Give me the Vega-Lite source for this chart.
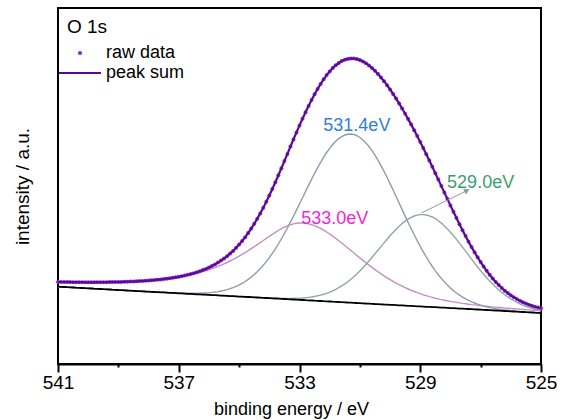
{
  "$schema": "https://vega.github.io/schema/vega-lite/v6.json",
  "width": 483,
  "height": 356,
  "autosize": {"type": "none"},
  "padding": {"left": 58, "top": 8, "right": 24, "bottom": 56},
  "background": "white",
  "config": {
    "view": {"stroke": "#000000", "strokeWidth": 2},
    "font": "Liberation Sans"
  },
  "datasets": {
    "xps": [
      {"E":525.0,"raw":55.8,"sum":55.8,"p1":51.1,"p2":53.5,"p3":53.2,"bg":51.0},
      {"E":525.1,"raw":56.5,"sum":56.5,"p1":51.3,"p2":54.1,"p3":53.4,"bg":51.2},
      {"E":525.2,"raw":57.3,"sum":57.3,"p1":51.5,"p2":54.9,"p3":53.7,"bg":51.3},
      {"E":525.3,"raw":58.3,"sum":58.3,"p1":51.6,"p2":55.7,"p3":53.9,"bg":51.5},
      {"E":525.4,"raw":59.3,"sum":59.3,"p1":51.9,"p2":56.7,"p3":54.1,"bg":51.7},
      {"E":525.5,"raw":60.5,"sum":60.5,"p1":52.1,"p2":57.7,"p3":54.3,"bg":51.8},
      {"E":525.6,"raw":61.8,"sum":61.8,"p1":52.3,"p2":58.9,"p3":54.6,"bg":52.0},
      {"E":525.7,"raw":63.2,"sum":63.2,"p1":52.5,"p2":60.2,"p3":54.8,"bg":52.2},
      {"E":525.8,"raw":64.9,"sum":64.9,"p1":52.8,"p2":61.7,"p3":55.1,"bg":52.3},
      {"E":525.9,"raw":66.7,"sum":66.7,"p1":53.1,"p2":63.3,"p3":55.3,"bg":52.5},
      {"E":526.0,"raw":68.7,"sum":68.7,"p1":53.3,"p2":65.1,"p3":55.5,"bg":52.6},
      {"E":526.1,"raw":70.9,"sum":70.9,"p1":53.7,"p2":67.1,"p3":55.8,"bg":52.8},
      {"E":526.2,"raw":73.3,"sum":73.3,"p1":54.0,"p2":69.2,"p3":56.0,"bg":53.0},
      {"E":526.3,"raw":76.0,"sum":76.0,"p1":54.4,"p2":71.6,"p3":56.3,"bg":53.1},
      {"E":526.4,"raw":78.9,"sum":78.9,"p1":54.9,"p2":74.1,"p3":56.6,"bg":53.3},
      {"E":526.5,"raw":82.1,"sum":82.1,"p1":55.3,"p2":76.9,"p3":56.9,"bg":53.5},
      {"E":526.6,"raw":85.5,"sum":85.5,"p1":55.9,"p2":79.8,"p3":57.1,"bg":53.6},
      {"E":526.7,"raw":89.2,"sum":89.2,"p1":56.5,"p2":82.9,"p3":57.4,"bg":53.8},
      {"E":526.8,"raw":93.2,"sum":93.2,"p1":57.2,"p2":86.2,"p3":57.7,"bg":54.0},
      {"E":526.9,"raw":97.4,"sum":97.4,"p1":58.0,"p2":89.7,"p3":58.0,"bg":54.1},
      {"E":527.0,"raw":101.9,"sum":101.9,"p1":58.9,"p2":93.3,"p3":58.4,"bg":54.3},
      {"E":527.1,"raw":106.7,"sum":106.7,"p1":59.8,"p2":97.0,"p3":58.7,"bg":54.5},
      {"E":527.2,"raw":111.7,"sum":111.7,"p1":61.0,"p2":100.9,"p3":59.1,"bg":54.6},
      {"E":527.3,"raw":116.9,"sum":116.9,"p1":62.2,"p2":104.8,"p3":59.4,"bg":54.8},
      {"E":527.4,"raw":122.3,"sum":122.3,"p1":63.6,"p2":108.8,"p3":59.8,"bg":55.0},
      {"E":527.5,"raw":128.0,"sum":128.0,"p1":65.2,"p2":112.8,"p3":60.2,"bg":55.1},
      {"E":527.6,"raw":133.8,"sum":133.8,"p1":66.9,"p2":116.8,"p3":60.6,"bg":55.3},
      {"E":527.7,"raw":139.8,"sum":139.8,"p1":68.9,"p2":120.8,"p3":61.1,"bg":55.4},
      {"E":527.8,"raw":146.0,"sum":146.0,"p1":71.0,"p2":124.6,"p3":61.6,"bg":55.6},
      {"E":527.9,"raw":152.2,"sum":152.2,"p1":73.4,"p2":128.3,"p3":62.1,"bg":55.8},
      {"E":528.0,"raw":158.6,"sum":158.6,"p1":76.0,"p2":131.8,"p3":62.6,"bg":55.9},
      {"E":528.1,"raw":165.0,"sum":165.0,"p1":78.9,"p2":135.1,"p3":63.2,"bg":56.1},
      {"E":528.2,"raw":171.4,"sum":171.4,"p1":82.1,"p2":138.1,"p3":63.8,"bg":56.3},
      {"E":528.3,"raw":177.9,"sum":177.9,"p1":85.5,"p2":140.9,"p3":64.4,"bg":56.4},
      {"E":528.4,"raw":184.4,"sum":184.4,"p1":89.2,"p2":143.3,"p3":65.1,"bg":56.6},
      {"E":528.5,"raw":190.8,"sum":190.8,"p1":93.2,"p2":145.3,"p3":65.8,"bg":56.8},
      {"E":528.6,"raw":197.2,"sum":197.2,"p1":97.5,"p2":147.0,"p3":66.6,"bg":56.9},
      {"E":528.7,"raw":203.6,"sum":203.6,"p1":102.1,"p2":148.2,"p3":67.4,"bg":57.1},
      {"E":528.8,"raw":209.8,"sum":209.8,"p1":107.0,"p2":149.0,"p3":68.3,"bg":57.2},
      {"E":528.9,"raw":216.0,"sum":216.0,"p1":112.2,"p2":149.4,"p3":69.2,"bg":57.4},
      {"E":529.0,"raw":222.0,"sum":222.0,"p1":117.6,"p2":149.4,"p3":70.3,"bg":57.6},
      {"E":529.1,"raw":228.0,"sum":228.0,"p1":123.3,"p2":148.9,"p3":71.3,"bg":57.7},
      {"E":529.2,"raw":233.8,"sum":233.8,"p1":129.2,"p2":148.0,"p3":72.5,"bg":57.9},
      {"E":529.3,"raw":239.4,"sum":239.4,"p1":135.3,"p2":146.6,"p3":73.7,"bg":58.1},
      {"E":529.4,"raw":244.9,"sum":244.9,"p1":141.5,"p2":144.9,"p3":75.0,"bg":58.2},
      {"E":529.5,"raw":250.3,"sum":250.3,"p1":147.9,"p2":142.9,"p3":76.3,"bg":58.4},
      {"E":529.6,"raw":255.5,"sum":255.5,"p1":154.4,"p2":140.4,"p3":77.8,"bg":58.6},
      {"E":529.7,"raw":260.6,"sum":260.6,"p1":161.0,"p2":137.7,"p3":79.3,"bg":58.7},
      {"E":529.8,"raw":265.4,"sum":265.4,"p1":167.5,"p2":134.8,"p3":80.9,"bg":58.9},
      {"E":529.9,"raw":270.1,"sum":270.1,"p1":174.0,"p2":131.6,"p3":82.6,"bg":59.1},
      {"E":530.0,"raw":274.5,"sum":274.5,"p1":180.4,"p2":128.2,"p3":84.3,"bg":59.2},
      {"E":530.1,"raw":278.8,"sum":278.8,"p1":186.7,"p2":124.7,"p3":86.2,"bg":59.4},
      {"E":530.2,"raw":282.8,"sum":282.8,"p1":192.7,"p2":121.1,"p3":88.1,"bg":59.5},
      {"E":530.3,"raw":286.5,"sum":286.5,"p1":198.4,"p2":117.4,"p3":90.1,"bg":59.7},
      {"E":530.4,"raw":290.0,"sum":290.0,"p1":203.8,"p2":113.8,"p3":92.2,"bg":59.9},
      {"E":530.5,"raw":293.2,"sum":293.2,"p1":208.8,"p2":110.1,"p3":94.4,"bg":60.0},
      {"E":530.6,"raw":296.1,"sum":296.1,"p1":213.4,"p2":106.5,"p3":96.6,"bg":60.2},
      {"E":530.7,"raw":298.6,"sum":298.6,"p1":217.5,"p2":103.0,"p3":98.9,"bg":60.4},
      {"E":530.8,"raw":300.8,"sum":300.8,"p1":221.1,"p2":99.5,"p3":101.2,"bg":60.5},
      {"E":530.9,"raw":302.6,"sum":302.6,"p1":224.1,"p2":96.2,"p3":103.6,"bg":60.7},
      {"E":531.0,"raw":303.9,"sum":303.9,"p1":226.5,"p2":93.1,"p3":106.1,"bg":60.9},
      {"E":531.1,"raw":304.9,"sum":304.9,"p1":228.3,"p2":90.1,"p3":108.5,"bg":61.0},
      {"E":531.2,"raw":305.4,"sum":305.4,"p1":229.5,"p2":87.3,"p3":111.0,"bg":61.2},
      {"E":531.3,"raw":305.5,"sum":305.5,"p1":230.0,"p2":84.7,"p3":113.5,"bg":61.4},
      {"E":531.4,"raw":305.1,"sum":305.1,"p1":229.8,"p2":82.3,"p3":116.0,"bg":61.5},
      {"E":531.5,"raw":304.2,"sum":304.2,"p1":229.0,"p2":80.1,"p3":118.5,"bg":61.7},
      {"E":531.6,"raw":302.9,"sum":302.9,"p1":227.5,"p2":78.1,"p3":121.0,"bg":61.9},
      {"E":531.7,"raw":301.0,"sum":301.0,"p1":225.4,"p2":76.3,"p3":123.3,"bg":62.0},
      {"E":531.8,"raw":298.7,"sum":298.7,"p1":222.7,"p2":74.6,"p3":125.7,"bg":62.2},
      {"E":531.9,"raw":295.9,"sum":295.9,"p1":219.5,"p2":73.2,"p3":127.9,"bg":62.3},
      {"E":532.0,"raw":292.6,"sum":292.6,"p1":215.7,"p2":71.9,"p3":130.0,"bg":62.5},
      {"E":532.1,"raw":288.9,"sum":288.9,"p1":211.5,"p2":70.7,"p3":132.0,"bg":62.7},
      {"E":532.2,"raw":284.7,"sum":284.7,"p1":206.8,"p2":69.7,"p3":133.9,"bg":62.8},
      {"E":532.3,"raw":280.1,"sum":280.1,"p1":201.7,"p2":68.9,"p3":135.6,"bg":63.0},
      {"E":532.4,"raw":275.1,"sum":275.1,"p1":196.3,"p2":68.2,"p3":137.0,"bg":63.2},
      {"E":532.5,"raw":269.8,"sum":269.8,"p1":190.6,"p2":67.6,"p3":138.3,"bg":63.3},
      {"E":532.6,"raw":264.1,"sum":264.1,"p1":184.7,"p2":67.0,"p3":139.3,"bg":63.5},
      {"E":532.7,"raw":258.1,"sum":258.1,"p1":178.6,"p2":66.6,"p3":140.1,"bg":63.7},
      {"E":532.8,"raw":251.8,"sum":251.8,"p1":172.5,"p2":66.3,"p3":140.7,"bg":63.8},
      {"E":532.9,"raw":245.3,"sum":245.3,"p1":166.3,"p2":66.0,"p3":141.0,"bg":64.0},
      {"E":533.0,"raw":238.6,"sum":238.6,"p1":160.0,"p2":65.8,"p3":141.0,"bg":64.2},
      {"E":533.1,"raw":231.6,"sum":231.6,"p1":153.9,"p2":65.7,"p3":140.7,"bg":64.3},
      {"E":533.2,"raw":224.6,"sum":224.6,"p1":147.8,"p2":65.6,"p3":140.1,"bg":64.5},
      {"E":533.3,"raw":217.4,"sum":217.4,"p1":141.8,"p2":65.6,"p3":139.3,"bg":64.7},
      {"E":533.4,"raw":210.1,"sum":210.1,"p1":136.1,"p2":65.6,"p3":138.1,"bg":64.8},
      {"E":533.5,"raw":202.9,"sum":202.9,"p1":130.5,"p2":65.6,"p3":136.8,"bg":65.0},
      {"E":533.6,"raw":195.7,"sum":195.7,"p1":125.1,"p2":65.6,"p3":135.3,"bg":65.1},
      {"E":533.7,"raw":188.7,"sum":188.7,"p1":120.0,"p2":65.7,"p3":133.5,"bg":65.3},
      {"E":533.8,"raw":181.7,"sum":181.7,"p1":115.2,"p2":65.8,"p3":131.7,"bg":65.5},
      {"E":533.9,"raw":175.0,"sum":175.0,"p1":110.7,"p2":65.9,"p3":129.7,"bg":65.6},
      {"E":534.0,"raw":168.5,"sum":168.5,"p1":106.4,"p2":66.0,"p3":127.7,"bg":65.8},
      {"E":534.1,"raw":162.2,"sum":162.2,"p1":102.4,"p2":66.1,"p3":125.6,"bg":66.0},
      {"E":534.2,"raw":156.3,"sum":156.3,"p1":98.7,"p2":66.2,"p3":123.5,"bg":66.1},
      {"E":534.3,"raw":150.6,"sum":150.6,"p1":95.4,"p2":66.4,"p3":121.4,"bg":66.3},
      {"E":534.4,"raw":145.2,"sum":145.2,"p1":92.3,"p2":66.5,"p3":119.3,"bg":66.5},
      {"E":534.5,"raw":140.2,"sum":140.2,"p1":89.4,"p2":66.7,"p3":117.3,"bg":66.6},
      {"E":534.6,"raw":135.4,"sum":135.4,"p1":86.9,"p2":66.8,"p3":115.3,"bg":66.8},
      {"E":534.7,"raw":131.0,"sum":131.0,"p1":84.6,"p2":67.0,"p3":113.3,"bg":67.0},
      {"E":534.8,"raw":126.8,"sum":126.8,"p1":82.5,"p2":67.1,"p3":111.4,"bg":67.1},
      {"E":534.9,"raw":123.0,"sum":123.0,"p1":80.7,"p2":67.3,"p3":109.6,"bg":67.3},
      {"E":535.0,"raw":119.4,"sum":119.4,"p1":79.1,"p2":67.4,"p3":107.8,"bg":67.4},
      {"E":535.1,"raw":116.2,"sum":116.2,"p1":77.7,"p2":67.6,"p3":106.1,"bg":67.6},
      {"E":535.2,"raw":113.1,"sum":113.1,"p1":76.4,"p2":67.8,"p3":104.5,"bg":67.8},
      {"E":535.3,"raw":110.4,"sum":110.4,"p1":75.3,"p2":67.9,"p3":103.0,"bg":67.9},
      {"E":535.4,"raw":107.8,"sum":107.8,"p1":74.4,"p2":68.1,"p3":101.5,"bg":68.1},
      {"E":535.5,"raw":105.5,"sum":105.5,"p1":73.6,"p2":68.3,"p3":100.1,"bg":68.3},
      {"E":535.6,"raw":103.4,"sum":103.4,"p1":73.0,"p2":68.4,"p3":98.8,"bg":68.4},
      {"E":535.7,"raw":101.4,"sum":101.4,"p1":72.4,"p2":68.6,"p3":97.6,"bg":68.6},
      {"E":535.8,"raw":99.6,"sum":99.6,"p1":72.0,"p2":68.8,"p3":96.4,"bg":68.8},
      {"E":535.9,"raw":98.0,"sum":98.0,"p1":71.6,"p2":68.9,"p3":95.3,"bg":68.9},
      {"E":536.0,"raw":96.5,"sum":96.5,"p1":71.3,"p2":69.1,"p3":94.2,"bg":69.1},
      {"E":536.1,"raw":95.1,"sum":95.1,"p1":71.1,"p2":69.3,"p3":93.3,"bg":69.3},
      {"E":536.2,"raw":93.9,"sum":93.9,"p1":71.0,"p2":69.4,"p3":92.4,"bg":69.4},
      {"E":536.3,"raw":92.8,"sum":92.8,"p1":70.9,"p2":69.6,"p3":91.5,"bg":69.6},
      {"E":536.4,"raw":91.8,"sum":91.8,"p1":70.8,"p2":69.7,"p3":90.7,"bg":69.7},
      {"E":536.5,"raw":90.8,"sum":90.8,"p1":70.8,"p2":69.9,"p3":90.0,"bg":69.9},
      {"E":536.6,"raw":90.0,"sum":90.0,"p1":70.8,"p2":70.1,"p3":89.3,"bg":70.1},
      {"E":536.7,"raw":89.2,"sum":89.2,"p1":70.8,"p2":70.2,"p3":88.6,"bg":70.2},
      {"E":536.8,"raw":88.5,"sum":88.5,"p1":70.9,"p2":70.4,"p3":88.0,"bg":70.4},
      {"E":536.9,"raw":87.8,"sum":87.8,"p1":70.9,"p2":70.6,"p3":87.4,"bg":70.6},
      {"E":537.0,"raw":87.2,"sum":87.2,"p1":71.0,"p2":70.7,"p3":86.9,"bg":70.7},
      {"E":537.1,"raw":86.7,"sum":86.7,"p1":71.1,"p2":70.9,"p3":86.4,"bg":70.9},
      {"E":537.2,"raw":86.2,"sum":86.2,"p1":71.3,"p2":71.1,"p3":86.0,"bg":71.1},
      {"E":537.3,"raw":85.7,"sum":85.7,"p1":71.4,"p2":71.2,"p3":85.6,"bg":71.2},
      {"E":537.4,"raw":85.3,"sum":85.3,"p1":71.5,"p2":71.4,"p3":85.2,"bg":71.4},
      {"E":537.5,"raw":84.9,"sum":84.9,"p1":71.6,"p2":71.6,"p3":84.8,"bg":71.6},
      {"E":537.6,"raw":84.6,"sum":84.6,"p1":71.8,"p2":71.7,"p3":84.5,"bg":71.7},
      {"E":537.7,"raw":84.3,"sum":84.3,"p1":71.9,"p2":71.9,"p3":84.2,"bg":71.9},
      {"E":537.8,"raw":84.0,"sum":84.0,"p1":72.1,"p2":72.0,"p3":83.9,"bg":72.0},
      {"E":537.9,"raw":83.7,"sum":83.7,"p1":72.2,"p2":72.2,"p3":83.7,"bg":72.2},
      {"E":538.0,"raw":83.4,"sum":83.4,"p1":72.4,"p2":72.4,"p3":83.4,"bg":72.4},
      {"E":538.1,"raw":83.2,"sum":83.2,"p1":72.5,"p2":72.5,"p3":83.2,"bg":72.5},
      {"E":538.2,"raw":83.0,"sum":83.0,"p1":72.7,"p2":72.7,"p3":83.0,"bg":72.7},
      {"E":538.3,"raw":82.9,"sum":82.9,"p1":72.9,"p2":72.9,"p3":82.9,"bg":72.9},
      {"E":538.4,"raw":82.7,"sum":82.7,"p1":73.0,"p2":73.0,"p3":82.7,"bg":73.0},
      {"E":538.5,"raw":82.5,"sum":82.5,"p1":73.2,"p2":73.2,"p3":82.5,"bg":73.2},
      {"E":538.6,"raw":82.4,"sum":82.4,"p1":73.4,"p2":73.4,"p3":82.4,"bg":73.4},
      {"E":538.7,"raw":82.3,"sum":82.3,"p1":73.5,"p2":73.5,"p3":82.3,"bg":73.5},
      {"E":538.8,"raw":82.2,"sum":82.2,"p1":73.7,"p2":73.7,"p3":82.2,"bg":73.7},
      {"E":538.9,"raw":82.1,"sum":82.1,"p1":73.9,"p2":73.9,"p3":82.1,"bg":73.9},
      {"E":539.0,"raw":82.0,"sum":82.0,"p1":74.0,"p2":74.0,"p3":82.0,"bg":74.0},
      {"E":539.1,"raw":82.0,"sum":82.0,"p1":74.2,"p2":74.2,"p3":82.0,"bg":74.2},
      {"E":539.2,"raw":81.9,"sum":81.9,"p1":74.3,"p2":74.3,"p3":81.9,"bg":74.3},
      {"E":539.3,"raw":81.9,"sum":81.9,"p1":74.5,"p2":74.5,"p3":81.9,"bg":74.5},
      {"E":539.4,"raw":81.8,"sum":81.8,"p1":74.7,"p2":74.7,"p3":81.8,"bg":74.7},
      {"E":539.5,"raw":81.8,"sum":81.8,"p1":74.8,"p2":74.8,"p3":81.8,"bg":74.8},
      {"E":539.6,"raw":81.8,"sum":81.8,"p1":75.0,"p2":75.0,"p3":81.8,"bg":75.0},
      {"E":539.7,"raw":81.8,"sum":81.8,"p1":75.2,"p2":75.2,"p3":81.8,"bg":75.2},
      {"E":539.8,"raw":81.7,"sum":81.7,"p1":75.3,"p2":75.3,"p3":81.7,"bg":75.3},
      {"E":539.9,"raw":81.7,"sum":81.7,"p1":75.5,"p2":75.5,"p3":81.7,"bg":75.5},
      {"E":540.0,"raw":81.7,"sum":81.7,"p1":75.7,"p2":75.7,"p3":81.7,"bg":75.7},
      {"E":540.1,"raw":81.7,"sum":81.7,"p1":75.8,"p2":75.8,"p3":81.7,"bg":75.8},
      {"E":540.2,"raw":81.8,"sum":81.8,"p1":76.0,"p2":76.0,"p3":81.8,"bg":76.0},
      {"E":540.3,"raw":81.8,"sum":81.8,"p1":76.2,"p2":76.2,"p3":81.8,"bg":76.2},
      {"E":540.4,"raw":81.8,"sum":81.8,"p1":76.3,"p2":76.3,"p3":81.8,"bg":76.3},
      {"E":540.5,"raw":81.8,"sum":81.8,"p1":76.5,"p2":76.5,"p3":81.8,"bg":76.5},
      {"E":540.6,"raw":81.9,"sum":81.9,"p1":76.7,"p2":76.7,"p3":81.9,"bg":76.7},
      {"E":540.7,"raw":81.9,"sum":81.9,"p1":76.8,"p2":76.8,"p3":81.9,"bg":76.8},
      {"E":540.8,"raw":82.0,"sum":82.0,"p1":77.0,"p2":77.0,"p3":82.0,"bg":77.0},
      {"E":540.9,"raw":82.0,"sum":82.0,"p1":77.1,"p2":77.1,"p3":82.0,"bg":77.1},
      {"E":541.0,"raw":82.1,"sum":82.1,"p1":77.3,"p2":77.3,"p3":82.1,"bg":77.3}
    ],
    "labels": [
      {"label":"531.4eV","E":531.1,"I":233},
      {"label":"529.0eV","E":527.0,"I":176},
      {"label":"533.0eV","E":531.83,"I":140}
    ],
    "arrow": [
      {"E":528.96,"I":151,"E2":527.45,"I2":173.5}
    ]
  },
  "layer": [
    {
      "data": {"name": "xps"},
      "transform": [{"fold": ["p3", "p1", "p2"], "as": ["comp", "val"]}],
      "mark": {"type": "line", "strokeWidth": 1.4},
      "encoding": {
        "x": {
          "field": "E", "type": "quantitative",
          "scale": {"domain": [525, 541], "reverse": true, "nice": false, "zero": false},
          "axis": {
            "title": "binding energy / eV",
            "values": [541, 539, 537, 535, 533, 531, 529, 527, 525],
            "labelExpr": "datum.value % 4 == 1 ? datum.label : ''",
            "format": "d",
            "tickSize": {"condition": {"test": "datum.value % 4 == 1", "value": 8}, "value": 3},
            "tickColor": "#000000", "tickWidth": 2,
            "domainColor": "#000000", "domainWidth": 2,
            "grid": false,
            "labelFont": "Liberation Sans", "labelFontSize": 19, "labelColor": "#000000", "labelPadding": 1,
            "labelFlush": false, "labelOverlap": false,
            "titleFont": "Liberation Sans", "titleFontSize": 18, "titleFontWeight": "normal", "titleColor": "#000000", "titlePadding": 8,
            "titleX": 233
          }
        },
        "y": {
          "field": "val", "type": "quantitative", "title": "intensity / a.u.",
          "scale": {"domain": [0, 356], "nice": false, "zero": false},
          "axis": {
            "labels": false, "ticks": false, "domain": false, "grid": false,
            "titleFont": "Liberation Sans", "titleFontSize": 19, "titleFontWeight": "normal", "titleColor": "#000000", "titlePadding": 26
          }
        },
        "color": {
          "field": "comp", "type": "nominal",
          "scale": {
            "domain": ["p1", "p2", "p3", "531.4eV", "529.0eV", "533.0eV"],
            "range": ["#8e9cb1", "#90a89d", "#c58fc6", "#2f80d8", "#3c9e6e", "#f026d8"]
          },
          "legend": null
        }
      }
    },
    {
      "data": {"name": "xps"},
      "mark": {"type": "line", "color": "#000000", "strokeWidth": 1.8},
      "encoding": {
        "x": {"field": "E", "type": "quantitative"},
        "y": {"field": "bg", "type": "quantitative", "title": "intensity / a.u."}
      }
    },
    {
      "data": {"name": "xps"},
      "mark": {"type": "point", "filled": true, "size": 16, "opacity": 1},
      "encoding": {
        "x": {"field": "E", "type": "quantitative"},
        "y": {"field": "raw", "type": "quantitative", "title": "intensity / a.u."},
        "fill": {
          "datum": "raw data", "type": "nominal",
          "scale": {"domain": ["raw data"], "range": ["#8a2be2"]},
          "legend": {
            "title": "O 1s", "orient": "none", "legendX": 9, "legendY": 10,
            "titleFont": "Liberation Sans", "titleFontSize": 19, "titleFontWeight": "normal", "titleColor": "#000000", "titlePadding": 7,
            "labelFont": "Liberation Sans", "labelFontSize": 18, "labelColor": "#000000",
            "symbolType": "circle", "symbolSize": 18, "symbolOffset": 4, "labelOffset": 17
          }
        }
      }
    },
    {
      "data": {"name": "xps"},
      "mark": {"type": "line", "strokeWidth": 2.2},
      "encoding": {
        "x": {"field": "E", "type": "quantitative"},
        "y": {"field": "sum", "type": "quantitative", "title": "intensity / a.u."},
        "stroke": {
          "datum": "peak sum", "type": "nominal",
          "scale": {"domain": ["peak sum"], "range": ["#5a0c8c"]},
          "legend": {
            "title": null, "orient": "none", "legendX": 0, "legendY": 43,
            "labelFont": "Liberation Sans", "labelFontSize": 18, "labelColor": "#000000",
            "symbolType": "stroke", "symbolSize": 1764, "symbolStrokeWidth": 2, "labelOffset": 4
          }
        }
      }
    },
    {
      "data": {"name": "arrow"},
      "mark": {"type": "rule", "color": "#8d9e99", "strokeWidth": 1},
      "encoding": {
        "x": {"field": "E", "type": "quantitative"},
        "y": {"field": "I", "type": "quantitative", "title": "intensity / a.u."},
        "x2": {"field": "E2"},
        "y2": {"field": "I2"}
      }
    },
    {
      "data": {"name": "arrow"},
      "mark": {"type": "point", "shape": "triangle-up", "angle": 63, "size": 40, "filled": true, "color": "#8d9e99", "opacity": 1},
      "encoding": {
        "x": {"field": "E2", "type": "quantitative"},
        "y": {"field": "I2", "type": "quantitative", "title": "intensity / a.u."}
      }
    },
    {
      "data": {"name": "labels"},
      "mark": {"type": "text", "font": "Liberation Sans", "fontSize": 18, "align": "center", "baseline": "alphabetic"},
      "encoding": {
        "x": {"field": "E", "type": "quantitative"},
        "y": {"field": "I", "type": "quantitative", "title": "intensity / a.u."},
        "text": {"field": "label"},
        "color": {"field": "label", "type": "nominal", "legend": null}
      }
    }
  ]
}
